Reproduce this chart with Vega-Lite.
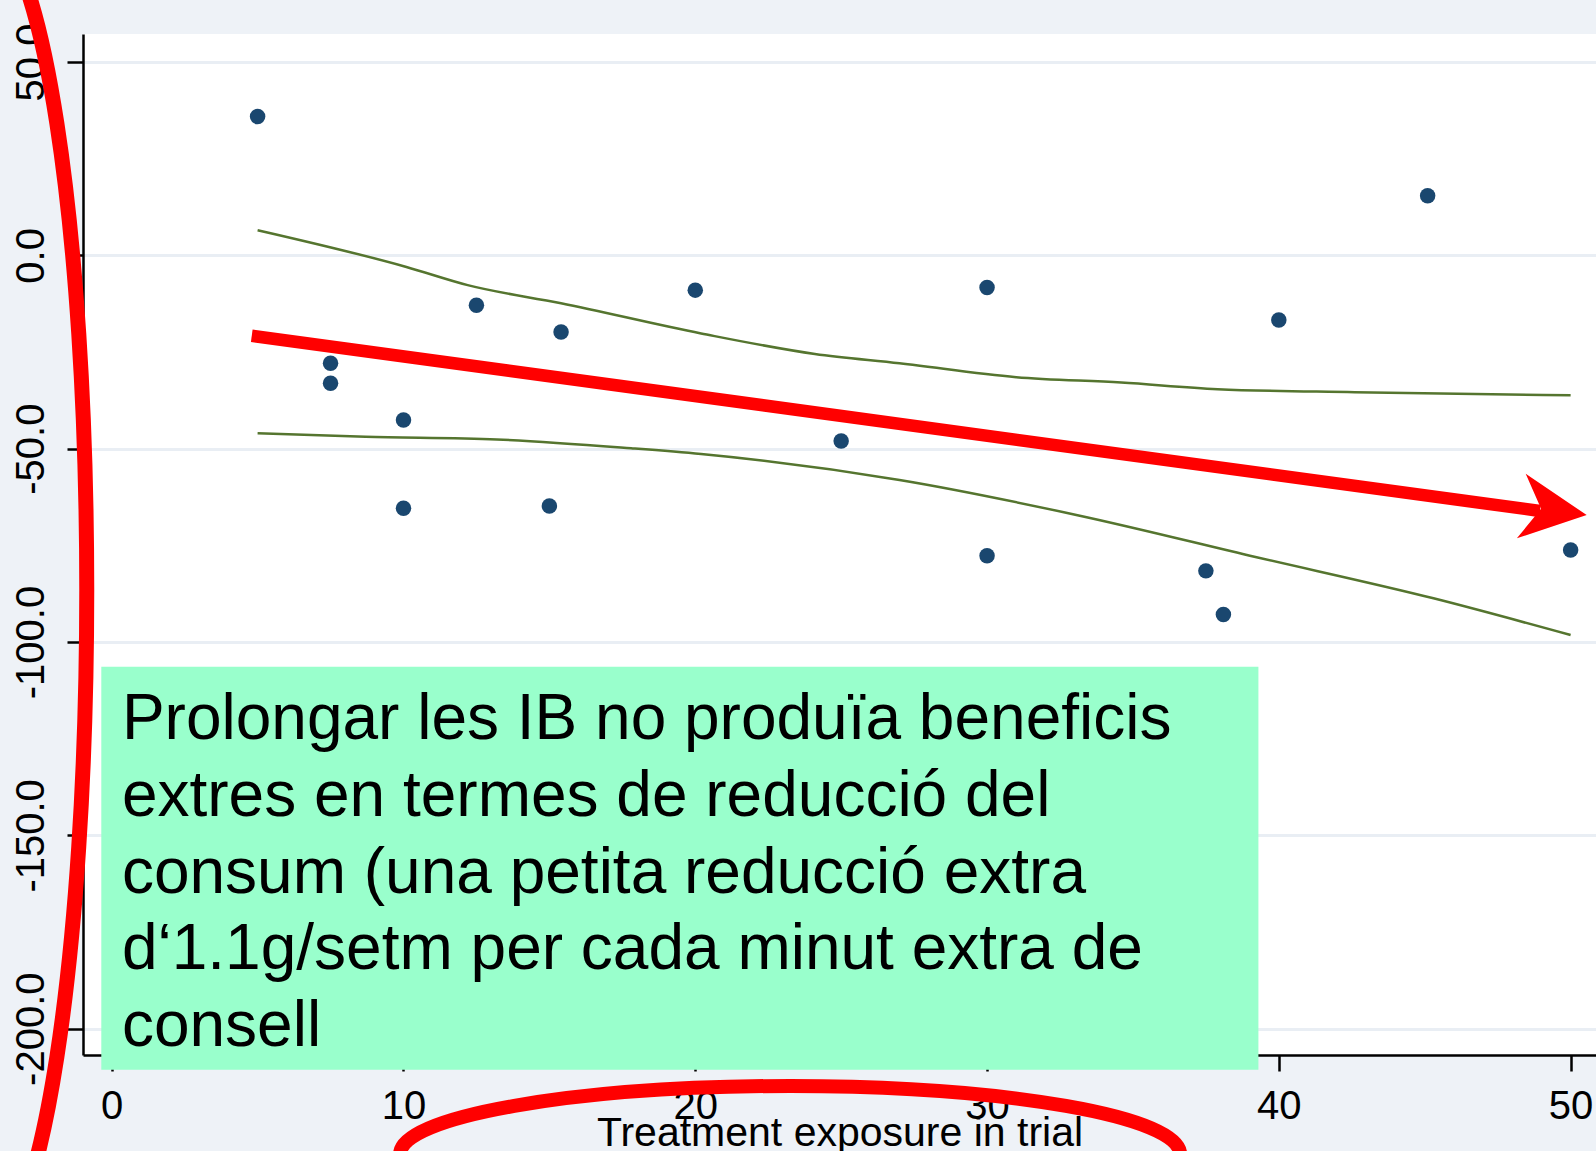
{
  "$schema": "https://vega.github.io/schema/vega-lite/v6.json",
  "autosize": {"type": "none"},
  "width": 1513,
  "height": 1021,
  "padding": {"left": 83, "top": 34, "right": 0, "bottom": 96},
  "background": "#eef2f7",
  "config": {
    "view": {"fill": "white", "stroke": null},
    "axis": {
      "domainColor": "black", "domainWidth": 2.5,
      "tickColor": "black", "tickWidth": 2.5, "tickSize": 16,
      "labelFont": "Liberation Sans", "labelFontSize": 40, "labelColor": "black",
      "titleFont": "Liberation Sans", "titleFontSize": 41, "titleColor": "black", "titleFontWeight": "normal"
    }
  },
  "datasets": {
    "pts": [
      {"x": 5.0, "y": 35.9}, {"x": 7.5, "y": -27.9}, {"x": 7.5, "y": -33.1},
      {"x": 10.0, "y": -42.6}, {"x": 10.0, "y": -65.4}, {"x": 12.5, "y": -12.9},
      {"x": 15.4, "y": -19.8}, {"x": 15.0, "y": -64.8}, {"x": 20.0, "y": -9.0},
      {"x": 25.0, "y": -48.0}, {"x": 30.0, "y": -8.3}, {"x": 40.0, "y": -16.7},
      {"x": 45.1, "y": 15.4}, {"x": 30.0, "y": -77.7}, {"x": 37.5, "y": -81.6},
      {"x": 38.1, "y": -92.9}, {"x": 50.0, "y": -76.2}
    ],
    "bands": [
      {"band": "upper", "x": 5.0, "y": 6.5}, {"band": "upper", "x": 10.1, "y": -3.0},
      {"band": "upper", "x": 12.2, "y": -7.7}, {"band": "upper", "x": 15.4, "y": -12.4},
      {"band": "upper", "x": 20.2, "y": -20.2}, {"band": "upper", "x": 24.1, "y": -25.5},
      {"band": "upper", "x": 27.0, "y": -27.9}, {"band": "upper", "x": 31.0, "y": -31.5},
      {"band": "upper", "x": 34.6, "y": -32.9}, {"band": "upper", "x": 37.9, "y": -34.6},
      {"band": "upper", "x": 42.6, "y": -35.4}, {"band": "upper", "x": 50.0, "y": -36.2},
      {"band": "lower", "x": 5.0, "y": -46.0}, {"band": "lower", "x": 8.7, "y": -46.9},
      {"band": "lower", "x": 13.2, "y": -47.6}, {"band": "lower", "x": 17.8, "y": -49.9},
      {"band": "lower", "x": 20.2, "y": -51.4}, {"band": "lower", "x": 27.0, "y": -58.1},
      {"band": "lower", "x": 33.1, "y": -67.2}, {"band": "lower", "x": 39.2, "y": -78.0},
      {"band": "lower", "x": 45.3, "y": -88.7}, {"band": "lower", "x": 50.0, "y": -98.2}
    ],
    "shaft": [{"x": 4.8, "y": -20.8}, {"x": 48.95, "y": -66.1}],
    "head": [{"x": 49.43, "y": -66.0}],
    "box": [{"x": -0.357, "x2": 39.3, "y": -106.4, "y2": -210.6}],
    "note": [{"x": 0.35, "y": -125.2, "label": "Prolongar les IB no produïa beneficis\nextres en termes de reducció del\nconsum (una petita reducció extra\nd‘1.1g/setm per cada minut extra de\nconsell"}],
    "ringLeft": [{"x": -4.35, "y": -86.6}],
    "ringBottom": [{"x": 23.25, "y": -232.4}]
  },
  "encoding": {
    "x": {
      "field": "x", "type": "quantitative",
      "scale": {"domain": [-0.984, 50.87], "nice": false, "zero": false},
      "axis": {"values": [0, 10, 20, 30, 40, 50], "grid": false, "labelPadding": 15,
               "title": "Treatment exposure in trial", "titleBaseline": "alphabetic", "titleY": 90}
    },
    "y": {
      "field": "y", "type": "quantitative",
      "scale": {"domain": [-206.8, 57.24], "nice": false, "zero": false},
      "axis": {"values": [-200, -150, -100, -50, 0, 50], "grid": true, "gridColor": "#e9eef4", "gridWidth": 3,
               "labelAngle": -90, "labelAlign": "center", "labelBaseline": "alphabetic", "labelPadding": 24,
               "labelExpr": "replace(format(datum.value, '.1f'), '\u2212', '-')", "title": null}
    }
  },
  "layer": [
    {"data": {"name": "pts"}, "mark": {"type": "point", "filled": true, "shape": "circle", "size": 240, "color": "#1a476f", "opacity": 1}},
    {"data": {"name": "bands"}, "mark": {"type": "line", "color": "#55752f", "strokeWidth": 2.5, "interpolate": "monotone"},
     "encoding": {"detail": {"field": "band"}}},
    {"data": {"name": "shaft"}, "mark": {"type": "line", "color": "#ff0000", "strokeWidth": 12.5, "strokeCap": "butt"}},
    {"data": {"name": "head"}, "mark": {"type": "point", "filled": true, "color": "#ff0000", "opacity": 1, "size": 4356, "angle": 7.8,
      "shape": "M 1 0 L -1 -0.985 L -0.394 0 L -1 0.985 Z"}},
    {"data": {"name": "box"}, "mark": {"type": "rect", "color": "#99ffcc", "opacity": 1},
     "encoding": {"x2": {"field": "x2"}, "y2": {"field": "y2"}}},
    {"data": {"name": "note"}, "mark": {"type": "text", "font": "Liberation Sans", "fontSize": 64, "color": "black",
      "align": "left", "baseline": "alphabetic", "lineBreak": "\n", "lineHeight": 76.6},
     "encoding": {"text": {"field": "label"}}},
    {"data": {"name": "ringLeft"}, "mark": {"type": "point", "filled": false, "color": "#ff0000", "strokeWidth": 15, "opacity": 1,
      "size": 1742400,
      "shape": "M 0.1545 0 C 0.1545 0.5523 0.0853 1 0 1 C -0.0853 1 -0.1545 0.5523 -0.1545 0 C -0.1545 -0.5523 -0.0853 -1 0 -1 C 0.0853 -1 0.1545 -0.5523 0.1545 0 Z"}},
    {"data": {"name": "ringBottom"}, "mark": {"type": "point", "filled": false, "color": "#ff0000", "strokeWidth": 14, "opacity": 1,
      "size": 608400,
      "shape": "M 1 0 C 1 0.0963 0.5523 0.1744 0 0.1744 C -0.5523 0.1744 -1 0.0963 -1 0 C -1 -0.0963 -0.5523 -0.1744 0 -0.1744 C 0.5523 -0.1744 1 -0.0963 1 0 Z"}}
  ]
}
